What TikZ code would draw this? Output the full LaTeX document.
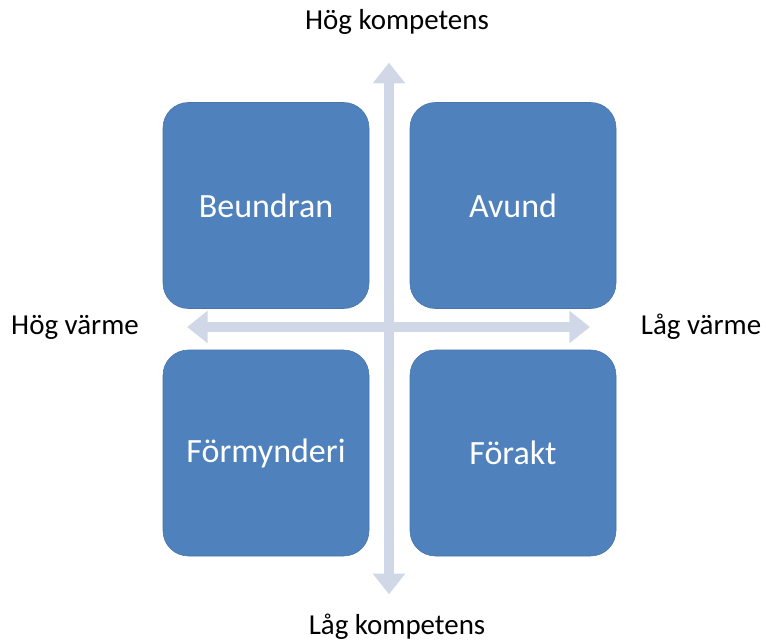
\documentclass[tikz,border=0pt]{standalone}
\usepackage{fontspec}
\setmainfont{Carlito}
\usepackage{tikz}
\usetikzlibrary{shapes.arrows, positioning}
\definecolor{boxblue}{HTML}{4F81BD}
\definecolor{axisgray}{HTML}{D0D8E8}

\begin{document}
\begin{tikzpicture}[
    x=0.75pt, y=-0.75pt,
    quad/.style={fill=boxblue, draw=boxblue!90!black, line width=0.4pt, rounded corners=19pt, minimum width=154.5pt, minimum height=154.5pt, inner sep=0pt, text=white, font=\fontsize{25.5}{30}\selectfont},
    axis/.style={double arrow, fill=axisgray, draw=none, inner xsep=0pt, inner ysep=3.4pt, double arrow head extend=8.6pt, double arrow tip angle=77},
    lbl/.style={font=\fontsize{21.7}{26}\selectfont, inner sep=0pt}
]
\useasboundingbox (0,0) rectangle (766,641);

% axes
\node[axis, minimum height=302pt] (warm) at (388.5,327) {};
\node[axis, rotate=90, minimum height=398.5pt] (comp) at (389,328.5) {};

% quadrants
\node[quad] (beundran) at (266,205.5) {Beundran};
\node[quad] (avund) at (513,205.5) {Avund};
\node[quad] (formynderi) at (266,453) {Förmynderi};
\node[quad] (forakt) at (513,453) {Förakt};

% axis labels
\node[lbl] (highcomp) at (397,22) {Hög kompetens};
\node[lbl] (lowcomp) at (397,627) {Låg kompetens};
\node[lbl] (highwarm) at (75,327) {Hög värme};
\node[lbl] (lowwarm) at (701,327) {Låg värme};
\end{tikzpicture}
\end{document}
